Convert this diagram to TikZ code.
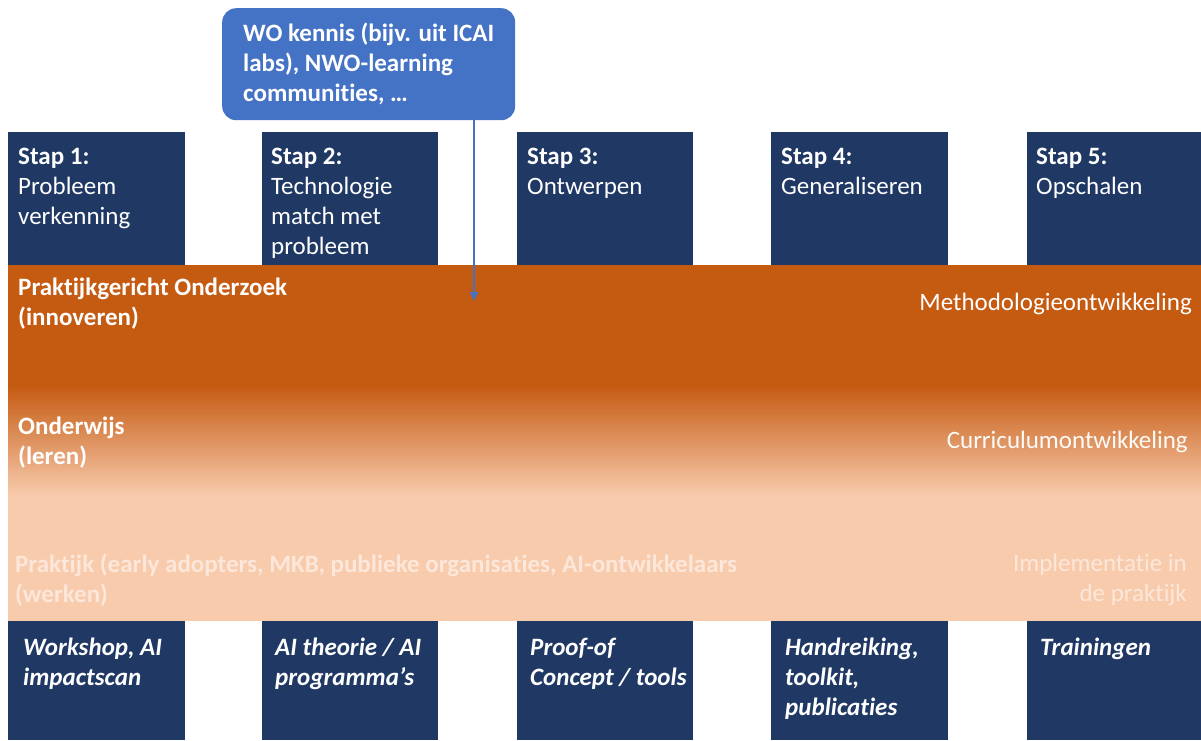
\documentclass[tikz,border=0pt]{standalone}
\usepackage{fontspec}
\setmainfont{Carlito}[Ligatures=NoCommon]
\usetikzlibrary{arrows.meta}

\definecolor{stapblue}{HTML}{203864}
\definecolor{bandorange}{HTML}{C55A11}
\definecolor{bandpeach}{HTML}{F8CBAD}
\definecolor{callblue}{HTML}{4472C4}
\definecolor{paletext}{HTML}{FCE7DA}

\tikzset{
  stapbox/.style={fill=stapblue, anchor=north west, inner sep=0pt,
    minimum width=#1, minimum height=133pt},
  resultbox/.style={fill=stapblue, anchor=north west, inner sep=0pt,
    minimum width=#1, minimum height=119pt},
  boxtext/.style={anchor=north west, align=left, inner sep=0pt, text=white,
    font=\fontsize{25}{30}\selectfont},
  bandtext/.style={boxtext, font=\fontsize{25}{30}\selectfont\bfseries},
  resulttext/.style={boxtext, font=\fontsize{25}{30}\selectfont\bfseries\itshape},
  sidetext/.style={anchor=north east, align=right, inner sep=0pt, text=white,
    font=\fontsize{25}{30}\selectfont},
}

\begin{document}
\begin{tikzpicture}[x=1pt,y=-1pt]
  \useasboundingbox (0,0) rectangle (1201,740);

  % band met kleurverloop
  \fill[bandorange] (8,265) rectangle (1201,386);
  \shade[top color=bandorange, bottom color=bandpeach] (8,385) rectangle (1201,496);
  \fill[bandpeach] (8,495) rectangle (1201,621);

  % stappen
  \node[stapbox=177pt] (stap1) at (8,132) {};
  \node[stapbox=176pt] (stap2) at (262,132) {};
  \node[stapbox=176pt] (stap3) at (517,132) {};
  \node[stapbox=177pt] (stap4) at (771,132) {};
  \node[stapbox=174pt] (stap5) at (1027,132) {};

  \node[boxtext] (stap1txt) at (18,148) {\textbf{Stap 1:}\\Probleem\\verkenning};
  \node[boxtext] (stap2txt) at (271,148) {\textbf{Stap 2:}\\Technologie\\match met\\probleem};
  \node[boxtext] (stap3txt) at (527,148) {\textbf{Stap 3:}\\Ontwerpen};
  \node[boxtext] (stap4txt) at (781,148) {\textbf{Stap 4:}\\Generaliseren};
  \node[boxtext] (stap5txt) at (1036,148) {\textbf{Stap 5:}\\Opschalen};

  % resultaten
  \node[resultbox=177pt] (res1) at (8,621) {};
  \node[resultbox=176pt] (res2) at (262,621) {};
  \node[resultbox=176pt] (res3) at (517,621) {};
  \node[resultbox=177pt] (res4) at (771,621) {};
  \node[resultbox=174pt] (res5) at (1027,621) {};

  \node[resulttext] (res1txt) at (23,638) {Workshop, AI\\impactscan};
  \node[resulttext] (res2txt) at (275,638) {AI theorie / AI\\programma’s};
  \node[resulttext] (res3txt) at (530,638) {Proof-of\\Concept / tools};
  \node[resulttext] (res4txt) at (785,638) {Handreiking,\\toolkit,\\publicaties};
  \node[resulttext] (res5txt) at (1040,638) {Trainingen};

  % lagen
  \node[bandtext] (onderzoek) at (18,278) {Praktijkgericht Onderzoek\\(innoveren)};
  \node[bandtext] (onderwijs) at (18,417) {Onderwijs\\(leren)};
  \node[bandtext, text=paletext] (praktijk) at (15,554)
    {Praktijk (early adopters, MKB, publieke organisaties, AI-ontwikkelaars\\(werken)};

  \node[sidetext] (methode) at (1192,293) {Methodologieontwikkeling};
  \node[sidetext, text=white!92!bandpeach] (curriculum) at (1188,431) {Curriculumontwikkeling};
  \node[sidetext, text=paletext] (implementatie) at (1187,554) {Implementatie in\\de praktijk};

  % WO kennis
  \node[fill=callblue, rounded corners=14pt, anchor=north west, minimum width=293pt,
    minimum height=112pt, inner xsep=16pt, align=left, text=white,
    font=\fontsize{25}{30}\selectfont\bfseries] (wo) at (222,8)
    {WO kennis (bijv. uit ICAI\\labs), NWO-learning\\communities, …};
  \coordinate (woend) at (474,301);
  \draw[callblue, line width=1.5pt, -{Triangle[width=8pt,length=9pt]}]
    (wo.south -| woend) -- (woend);
\end{tikzpicture}
\end{document}
